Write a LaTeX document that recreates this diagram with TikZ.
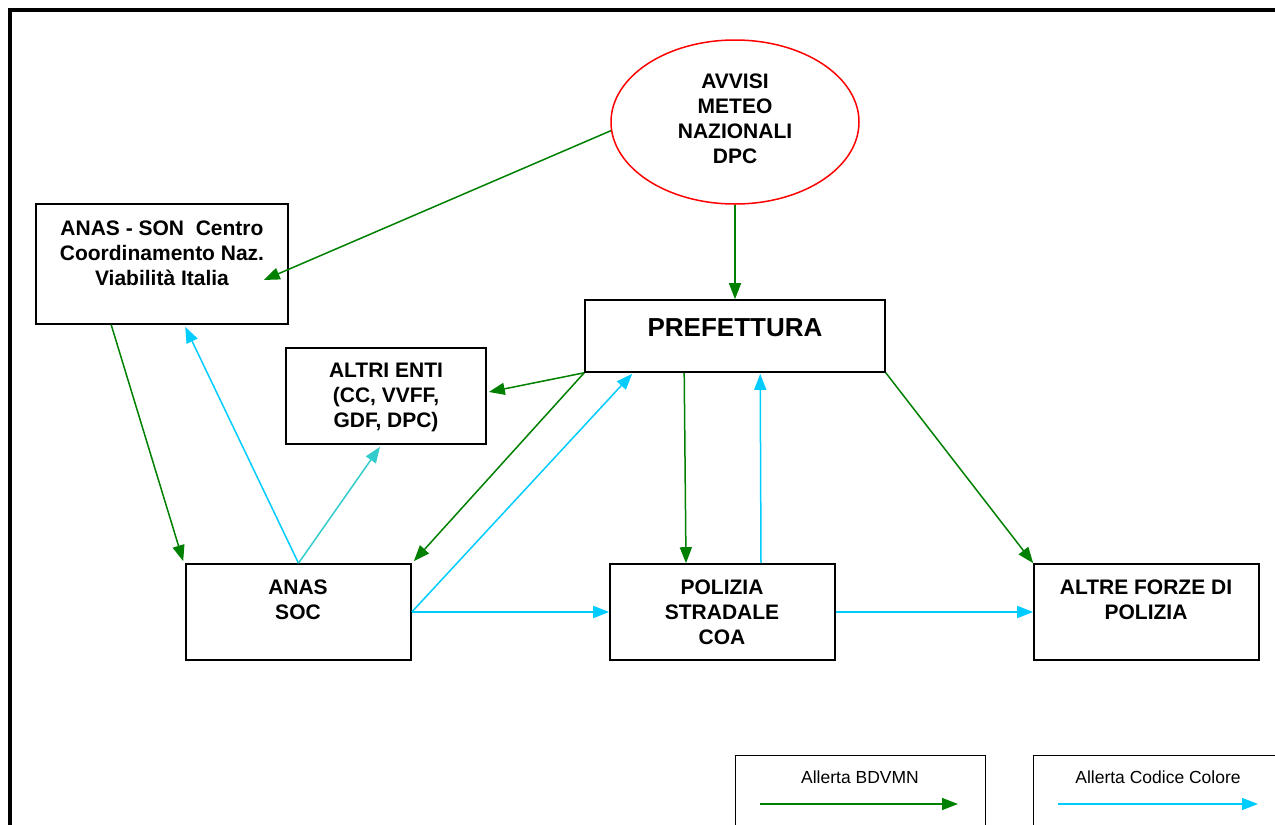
\documentclass[tikz,border=0pt]{standalone}
\usepackage{fontspec}
\setmainfont{Liberation Sans}
\usetikzlibrary{arrows.meta,shapes.geometric}
\definecolor{agreen}{HTML}{008000}
\definecolor{acyan}{HTML}{00CCFF}
\definecolor{ateal}{HTML}{33CCCC}
\definecolor{ared}{HTML}{FF0000}
\begin{document}
\begin{tikzpicture}[x=1pt,y=-1pt,
  box/.style={draw, line width=1.6pt, inner sep=0pt},
  lbox/.style={draw, line width=0.9pt, inner sep=0pt},
  txt/.style={font=\bfseries\fontsize{21}{25}\selectfont, align=center, inner sep=0pt},
  ltxt/.style={font=\fontsize{17.5}{21}\selectfont, inner sep=0pt},
  ga/.style={draw=agreen, line width=1.5pt, -{Triangle[length=16pt,width=12pt]}},
  ca/.style={draw=acyan, line width=1.5pt, -{Triangle[length=16pt,width=12pt]}},
  ta/.style={draw=ateal, line width=1.5pt, -{Triangle[length=16pt,width=12pt]}}]
\useasboundingbox (0,0) rectangle (1275,825);
% outer frame
\draw[line width=3.5pt] (1290,10) -- (10,10) -- (10,840);
% nodes
\node[draw=ared, line width=1.5pt, ellipse, minimum width=248pt, minimum height=164pt, inner sep=0pt] (avv) at (735,122) {};
\node[txt] (tavv) at (735,119) {AVVISI\\METEO\\NAZIONALI\\DPC};
\node[box, minimum width=252pt, minimum height=120pt] (son) at (162,264) {};
\node[txt] (tson) at (162,253) {ANAS - SON\ \ Centro\\Coordinamento Naz.\\Viabilità Italia};
\node[box, minimum width=200pt, minimum height=96pt] (altri) at (386,396) {};
\node[txt] (taltri) at (386,397) {ALTRI ENTI\\(CC, VVFF,\\GDF, DPC)};
\node[box, minimum width=300pt, minimum height=72pt] (pref) at (735,336) {};
\node[txt, font=\bfseries\fontsize{26}{30}\selectfont] (tpref) at (735,328) {PREFETTURA};
\node[box, minimum width=225pt, minimum height=96pt] (soc) at (298.5,612) {};
\node[txt] (tsoc) at (298,600) {ANAS\\SOC};
\node[box, minimum width=225pt, minimum height=96pt] (pol) at (722.5,612) {};
\node[txt] (tpol) at (722,612) {POLIZIA\\STRADALE\\COA};
\node[box, minimum width=225pt, minimum height=96pt] (alt) at (1146.5,612) {};
\node[txt] (talt) at (1146,600) {ALTRE FORZE DI\\POLIZIA};
% connectors
\draw[ga] (avv.184) -- ([xshift=-25pt,yshift=-16pt]son.east);
\draw[ga] (avv.south) -- (pref.north);
\draw[ga] ([xshift=76pt]son.south west) -- ([xshift=-2pt,yshift=2pt]soc.north west);
\draw[ca] (soc.north) -- ([xshift=150pt,yshift=-2pt]son.south west);
\draw[ta] (soc.north) -- ([xshift=-6pt,yshift=-2pt]altri.south);
\draw[ga] (pref.south west) -- ([xshift=2pt,yshift=4pt]altri.east);
\draw[ga] (pref.south west) -- ([xshift=2pt,yshift=2pt]soc.north east);
\draw[ca] (soc.east) -- ([xshift=48pt,yshift=-1pt]pref.south west);
\draw[ca] (soc.east) -- (pol.west);
\draw[ga] ([xshift=100pt]pref.south west) -- ([xshift=-36.5pt]pol.north);
\draw[ca] ([xshift=38.5pt]pol.north) -- ([xshift=176pt,yshift=-1pt]pref.south west);
\draw[ga] (pref.south east) -- (alt.north west);
\draw[ca] (pol.east) -- (alt.west);
% legend
\node[lbox, minimum width=250pt, minimum height=85pt] (leg1) at (860,797.5) {};
\node[ltxt] (tleg1) at (860,777) {Allerta BDVMN};
\coordinate (l1a) at (760,804);
\coordinate (l1b) at (958,804);
\draw[ga] (l1a) -- (l1b);
\node[lbox, minimum width=260pt, minimum height=85pt] (leg2) at (1163,797.5) {};
\node[ltxt] (tleg2) at (1158,777) {Allerta Codice Colore};
\coordinate (l2a) at (1058,804);
\coordinate (l2b) at (1258,804);
\draw[ca] (l2a) -- (l2b);
\end{tikzpicture}
\end{document}
